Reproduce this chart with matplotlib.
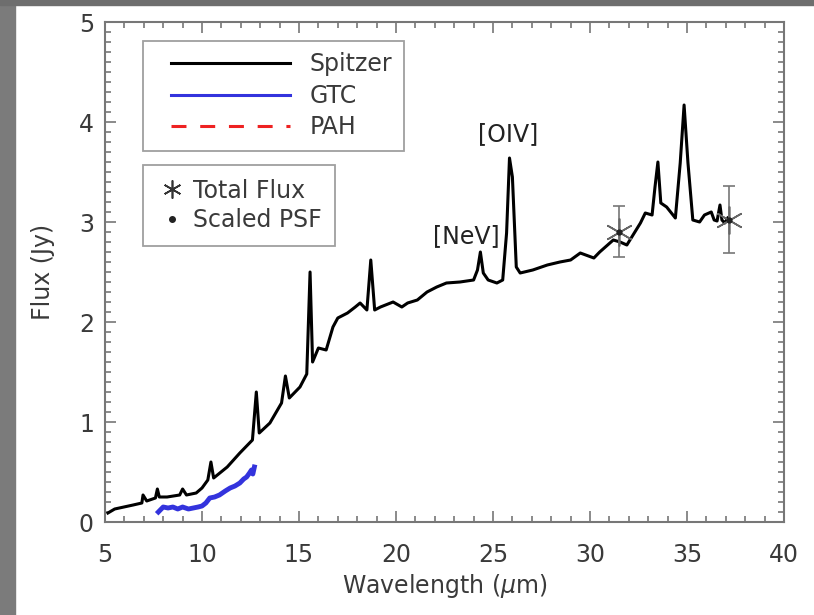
import matplotlib
matplotlib.use("Agg")
import matplotlib.pyplot as plt
from matplotlib.lines import Line2D
from matplotlib.patches import Rectangle
from matplotlib.legend_handler import HandlerLine2D

plt.rcParams['font.family'] = ['DejaVu Sans']
plt.rcParams['mathtext.fontset'] = 'dejavusans'

# Spitzer IRS spectrum (wavelength in micron, flux in Jy)
spitzer_wave = [5.15, 5.5, 6.45, 6.9, 6.96, 7.15, 7.6, 7.7, 7.8, 8.2, 8.85, 9.0, 9.2,
                9.7, 10.0, 10.3, 10.46, 10.6, 11.3, 11.95, 12.6, 12.8, 12.95, 13.5,
                14.1, 14.3, 14.5, 15.05, 15.4, 15.57, 15.7, 16.0, 16.4, 16.75, 17.0,
                17.5, 17.9, 18.15, 18.5, 18.7, 18.9, 19.2, 19.85, 20.3, 20.6, 21.1,
                21.6, 22.1, 22.6, 23.3, 24.0, 24.2, 24.35, 24.5, 24.75, 25.2, 25.5,
                25.7, 25.85, 26.0, 26.2, 26.4, 27.05, 27.8, 28.45, 29.0, 29.5, 30.2,
                30.5, 31.2, 31.55, 31.9, 32.6, 32.85, 33.2, 33.35, 33.5, 33.65, 33.95,
                34.4, 34.65, 34.85, 35.05, 35.3, 35.65, 35.9, 36.25, 36.4, 36.55,
                36.7, 36.8, 36.95, 37.1]
spitzer_flux = [0.09, 0.13, 0.17, 0.19, 0.27, 0.21, 0.24, 0.33, 0.25, 0.25, 0.27, 0.33,
                0.27, 0.29, 0.34, 0.42, 0.60, 0.44, 0.55, 0.69, 0.82, 1.30, 0.89, 0.99,
                1.19, 1.46, 1.24, 1.35, 1.48, 2.50, 1.60, 1.74, 1.72, 1.95, 2.04, 2.09,
                2.15, 2.19, 2.12, 2.62, 2.12, 2.15, 2.20, 2.15, 2.19, 2.22, 2.30, 2.35,
                2.39, 2.40, 2.42, 2.52, 2.70, 2.49, 2.42, 2.39, 2.42, 2.89, 3.64, 3.45,
                2.55, 2.49, 2.52, 2.57, 2.60, 2.62, 2.69, 2.64, 2.70, 2.82, 2.80, 2.77,
                2.99, 3.09, 3.07, 3.35, 3.60, 3.19, 3.15, 3.04, 3.59, 4.17, 3.59, 3.02,
                3.00, 3.07, 3.10, 3.02, 3.01, 3.17, 3.02, 2.99, 3.04]

# GTC spectrum
gtc_wave = [7.75, 7.9, 8.0, 8.25, 8.5, 8.75, 9.0, 9.3, 9.55, 9.8, 10.0, 10.2, 10.4,
            10.65, 10.9, 11.2, 11.45, 11.7, 11.95, 12.15, 12.3, 12.45, 12.55, 12.62, 12.7]
gtc_flux = [0.10, 0.13, 0.15, 0.14, 0.15, 0.13, 0.15, 0.13, 0.14, 0.15, 0.16, 0.19, 0.24,
            0.25, 0.27, 0.31, 0.34, 0.36, 0.39, 0.43, 0.45, 0.49, 0.52, 0.48, 0.55]

# photometry
phot_wave = [31.5, 37.15]
total_flux = [2.90, 3.02]
total_err_lo = [0.25, 0.33]
total_err_hi = [0.26, 0.34]
psf_flux = [2.90, 3.02]

line_names = ['[NeV]', '[OIV]']
line_pos = [(23.6, 2.86), (25.8, 3.88)]

txt = '#3a3a3a'
fs = 17
fig = plt.figure(figsize=(8.14, 6.15), dpi=100)
ax = fig.add_axes([105 / 814, 1 - 522 / 615, 679 / 814, 500 / 615])

ax.plot(spitzer_wave, spitzer_flux, color='black', lw=2.2, solid_joinstyle='round')
ax.plot(gtc_wave, gtc_flux, color='#3333dd', lw=3.5, solid_joinstyle='round')
ax.errorbar(phot_wave, total_flux, yerr=[total_err_lo, total_err_hi], fmt='none',
            ecolor='#777777', elinewidth=1.2, capsize=4, capthick=1.2)
ax.plot(phot_wave, total_flux, ls='none', marker=(6, 2, 0), ms=20, mew=1.2,
        color='#666666')
ax.plot(phot_wave, psf_flux, ls='none', marker='o', ms=3.5, color='#222222')

for name, (x, y) in zip(line_names, line_pos):
    ax.text(x, y, name, ha='center', va='center', fontsize=fs, color='#222222')

ax.set_xlim(5, 40)
ax.set_ylim(0, 5)
ax.set_xticks(range(5, 41, 5))
ax.set_xticks(range(5, 41), minor=True)
ax.set_yticks(range(0, 6))
ax.set_yticks([i / 10 for i in range(51)], minor=True)
ax.tick_params(which='both', direction='in', top=True, right=True, colors='#777777',
               labelcolor=txt, labelsize=fs, width=1.2)
ax.tick_params(which='major', length=8)
ax.tick_params(axis='x', which='major', pad=15)
ax.tick_params(axis='y', which='major', pad=8)
ax.tick_params(which='minor', length=4)
for s in ax.spines.values():
    s.set_color('#777777')
    s.set_linewidth(1.5)

ax.set_xlabel('Wavelength ($\\mu$m)', fontsize=fs, color=txt, labelpad=4)
ax.set_ylabel('Flux (Jy)', fontsize=fs, color=txt, labelpad=17)

h1 = [Line2D([], [], color='black', lw=2.2),
      Line2D([], [], color='#3333dd', lw=2.2),
      Line2D([], [], color='#ee2222', lw=2.2, ls=(0, (4.9, 4.5)))]
leg1 = ax.legend(h1, ['Spitzer', 'GTC', 'PAH'], loc='upper left',
                 bbox_to_anchor=(38 / 679, 481 / 500), fontsize=fs, frameon=True,
                 fancybox=False, edgecolor='#888888', borderpad=0.48,
                 labelspacing=0.32, handlelength=5.75, handletextpad=0.84,
                 borderaxespad=0, labelcolor=txt,
                 handler_map={Line2D: HandlerLine2D(xpad=0.72)})
leg1.get_frame().set_linewidth(1.3)
ax.add_artist(leg1)

h2 = [Line2D([], [], ls='none', marker=(6, 2, 0), ms=13, mew=1.2, color='#333333'),
      Line2D([], [], ls='none', marker='o', ms=4, color='#222222')]
leg2 = ax.legend(h2, ['Total Flux', 'Scaled PSF'], loc='upper left',
                 bbox_to_anchor=(38 / 679, 357 / 500), fontsize=fs, frameon=True,
                 fancybox=False, edgecolor='#888888', borderpad=0.58,
                 labelspacing=0.24, handlelength=1.27, handletextpad=0.25,
                 borderaxespad=0, labelcolor=txt)
leg2.get_frame().set_linewidth(1.3)

# grey frame strips of the original screenshot
fig.patches.append(Rectangle((0, 0), 15 / 814, 1, transform=fig.transFigure,
                             color='#7b7b7b', zorder=-1))
fig.patches.append(Rectangle((0, 1 - 5 / 615), 1, 5 / 615, transform=fig.transFigure,
                             color='#6e6e6e', zorder=-1))

fig.savefig('out.png', dpi=100)
